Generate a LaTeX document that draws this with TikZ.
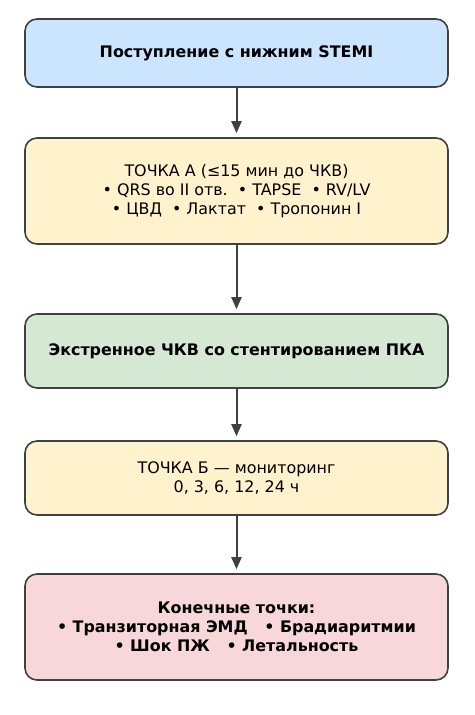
\documentclass[tikz,border=0pt]{standalone}
\usepackage{fontspec}
\setmainfont{DejaVu Sans}
\usetikzlibrary{arrows.meta}
\definecolor{bblue}{HTML}{CCE5FF}
\definecolor{byellow}{HTML}{FFF2CC}
\definecolor{bgreen}{HTML}{D5E8D4}
\definecolor{bpink}{HTML}{F8D7DA}
\definecolor{edge}{HTML}{404040}
\tikzset{
  box/.style={draw=edge, line width=1.6pt, rounded corners=12pt, minimum width=423pt, align=center, inner sep=0pt, font=\fontsize{15.9}{18.7}\selectfont},
  boldbox/.style={box, font=\fontsize{15.9}{18.7}\selectfont\bfseries},
  conn/.style={draw=edge, line width=2pt, -{Triangle[length=12pt,width=10pt]}, shorten >=4pt}
}
\begin{document}
\begin{tikzpicture}[x=1pt,y=-1pt]
\useasboundingbox (0,0) rectangle (474,715);
\node[boldbox, fill=bblue, minimum height=68pt] (a) at (236.5,53) {Поступление с нижним STEMI};
\node[box, fill=byellow, minimum height=106pt] (b) at (236.5,191) {ТОЧКА А (≤15 мин до ЧКВ)\\• QRS во II отв.\ \ • TAPSE\ \ • RV/LV\\• ЦВД\ \ • Лактат\ \ • Тропонин I};
\node[boldbox, fill=bgreen, minimum height=74pt] (c) at (236.5,351) {Экстренное ЧКВ со стентированием ПКА};
\node[box, fill=byellow, minimum height=74pt] (d) at (236.5,478) {ТОЧКА Б — мониторинг\\0, 3, 6, 12, 24 ч};
\node[boldbox, fill=bpink, minimum height=106pt] (e) at (236.5,627) {Конечные точки:\\• Транзиторная ЭМД\ \ \ • Брадиаритмии\\• Шок ПЖ\ \ \ • Летальность};
\draw[conn] (a) -- (b);
\draw[conn] (b) -- (c);
\draw[conn] (c) -- (d);
\draw[conn] (d) -- (e);
\end{tikzpicture}
\end{document}
